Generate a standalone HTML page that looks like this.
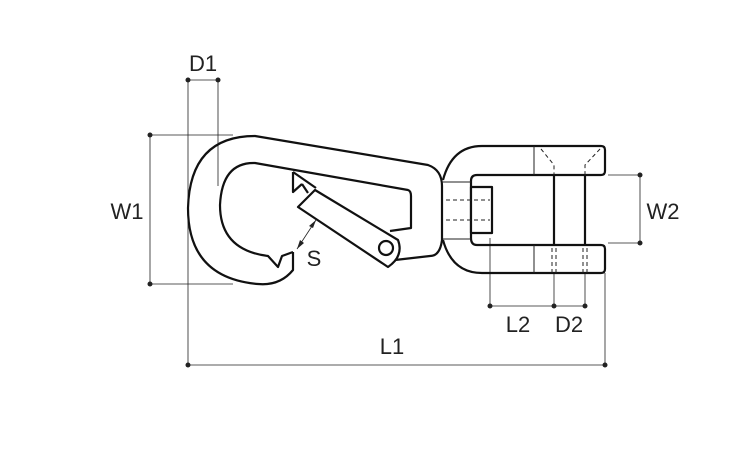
<!DOCTYPE html>
<html><head><style>body{margin:0;background:#fff}svg{display:block}</style></head><body>
<svg width="750" height="450" viewBox="0 0 750 450" xmlns="http://www.w3.org/2000/svg">
<g stroke="#222" stroke-width="0.8" fill="none">
<line x1="188" y1="80" x2="188" y2="365"/>
<line x1="218" y1="80" x2="218" y2="186"/>
<line x1="188" y1="80" x2="218" y2="80"/>
<line x1="150" y1="135" x2="233" y2="135"/>
<line x1="150" y1="284" x2="233" y2="284"/>
<line x1="150" y1="135" x2="150" y2="284"/>
<line x1="188" y1="365" x2="605" y2="365"/>
<line x1="605" y1="273" x2="605" y2="365"/>
<line x1="608" y1="175" x2="640" y2="175"/>
<line x1="608" y1="243" x2="640" y2="243"/>
<line x1="640" y1="175" x2="640" y2="243"/>
<line x1="490" y1="238" x2="490" y2="306"/>
<line x1="554" y1="273" x2="554" y2="306"/>
<line x1="585" y1="273" x2="585" y2="306"/>
<line x1="490" y1="306" x2="585" y2="306"/>
<line x1="316" y1="220" x2="297" y2="249"/>
</g>
<g fill="#222">
<circle cx="188" cy="80" r="2.5"/><circle cx="218" cy="80" r="2.5"/>
<circle cx="150" cy="135" r="2.5"/><circle cx="150" cy="284" r="2.5"/>
<circle cx="188" cy="365" r="2.5"/><circle cx="605" cy="365" r="2.5"/>
<circle cx="640" cy="175" r="2.5"/><circle cx="640" cy="243" r="2.5"/>
<circle cx="490" cy="306" r="2.5"/><circle cx="554" cy="306" r="2.5"/><circle cx="585" cy="306" r="2.5"/>
<polygon points="316,220 309,226 313,228"/>
<polygon points="297,249 300,240 304,243"/>
</g>
<g stroke="#111" stroke-width="2.2" fill="none" stroke-linejoin="round">
<!-- hook outer -->
<path d="M293,252 L293,270 Q280,286 258,284 Q188,278 188,208 Q190,136 255,136 L428,165 Q442,170 442,186 L442,240 Q440,256 430,256 L395,260"/>
<!-- hook inner -->
<path d="M293,252 L282,256 L278,267 L268,256 Q220,250 220,205 Q222,162 255,163 L408,190 Q411,191 411,196 L411,228 L390,231"/>
<!-- gate -->
<path d="M298,207 L315,190 L398,240 Q404,256 388,267 Z" fill="#fff"/>
<circle cx="386" cy="248" r="7"/>
<path d="M293,172 L293,192 L302,184 M293,172 L316,188 M302,184 L308,193"/>
<!-- swivel eye -->
<path d="M443,180 Q452,146 482,146 L601,146 Q605,146 605,150 L605,171 Q605,175 601,175 L477,175 Q471,175 471,181 L471,238 Q471,245 477,245 L601,245 Q605,245 605,249 L605,269 Q605,273 601,273 L482,273 Q452,273 443,240"/>
<path d="M443,180 Q430,165 442,160 M443,240 Q430,255 442,262" stroke-width="0"/>
<rect x="471" y="187" width="21" height="46" fill="#fff"/>
<line x1="554" y1="175" x2="554" y2="245"/>
<line x1="585" y1="175" x2="585" y2="245"/>
</g>
<g stroke="#222" stroke-width="1" fill="none">
<line x1="443" y1="182" x2="471" y2="182"/>
<line x1="443" y1="239" x2="471" y2="239"/>
<line x1="534" y1="146" x2="534" y2="175"/>
<line x1="534" y1="245" x2="534" y2="273"/>
<g stroke-dasharray="4,3">
<line x1="446" y1="200" x2="490" y2="200"/>
<line x1="446" y1="220" x2="490" y2="220"/>
<path d="M541,149 L554,165 L554,175 M600,149 L585,165 L585,175"/>
<line x1="552" y1="248" x2="552" y2="273"/><line x1="556" y1="248" x2="556" y2="273"/>
<line x1="583" y1="248" x2="583" y2="273"/><line x1="587" y1="248" x2="587" y2="273"/>
</g>
</g>
<g font-family="Liberation Sans, sans-serif" font-size="22" fill="#222" text-anchor="middle">
<text x="203" y="71">D1</text>
<text x="127" y="219">W1</text>
<text x="314" y="266">S</text>
<text x="392" y="354">L1</text>
<text x="663" y="219">W2</text>
<text x="518" y="332">L2</text>
<text x="569" y="332">D2</text>
</g>
</svg>
</body></html>
